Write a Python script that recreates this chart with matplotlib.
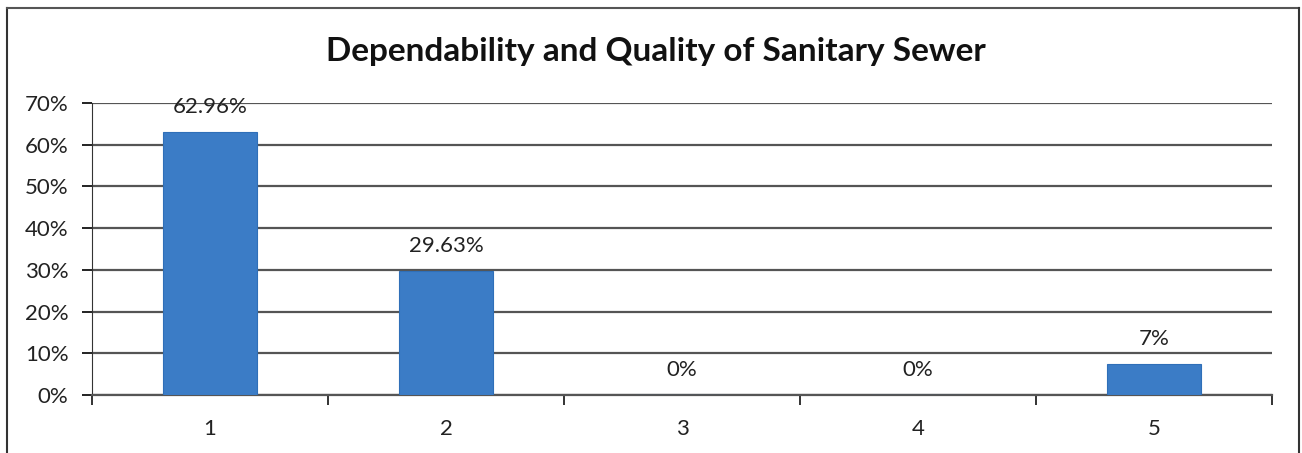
import matplotlib
matplotlib.use("Agg")
import matplotlib.pyplot as plt
from matplotlib.lines import Line2D
from matplotlib.ticker import FuncFormatter, MultipleLocator

categories = ["1", "2", "3", "4", "5"]
values = [62.96, 29.63, 0.0, 0.0, 7.41]
labels = ["62.96%", "29.63%", "0%", "0%", "7%"]
title = "Dependability and Quality of Sanitary Sewer"

plt.rcParams['font.family'] = ['Lato', 'DejaVu Sans']

fig = plt.figure(figsize=(13.02, 4.53), dpi=100)
ax = fig.add_axes([92/1302, 1-395/453, (1272-92)/1302, (395-103)/453])

x = list(range(len(categories)))
ax.bar(x, values, width=0.4, color="#3b7cc6", edgecolor="#2f6fb8", linewidth=0.8, zorder=3)
for xi, v, lab in zip(x, values, labels):
    ax.annotate(lab, (xi, v), xytext=(0, 18), textcoords="offset points",
                ha="center", va="center", fontsize=16, color="#222222", zorder=4)

ax.set_xlim(-0.5, 4.5)
ax.set_ylim(0, 70)
ax.yaxis.set_major_locator(MultipleLocator(10))
ax.yaxis.set_major_formatter(FuncFormatter(lambda v, p: f"{int(round(v))}%"))
ax.grid(axis="y", color="#555555", linewidth=1.6, zorder=0)
ax.set_axisbelow(True)
for s in ["top", "right"]:
    ax.spines[s].set_visible(False)
ax.spines["left"].set_color("#333333")
ax.spines["bottom"].set_color("#555555")
ax.spines["bottom"].set_linewidth(1.6)
ax.set_xticks(x)
ax.set_xticklabels(categories)
ax.tick_params(axis="x", length=0, labelsize=16, pad=17, colors="#222222")
ax.set_xticks([i + 0.5 for i in range(-1, 5)], minor=True)
ax.tick_params(axis="x", which="minor", length=7, width=1.4, color="#333333")
ax.tick_params(axis="y", length=7, width=1.4, labelsize=16, colors="#222222", pad=10)

fig.text((327+985)/2/1302, 1-52/453, title, ha="center", va="center", fontsize=24, fontweight="bold", color="#111111")

# chart border
fig.add_artist(Line2D([7/1302, 7/1302], [0, 1-8/453], transform=fig.transFigure, color="#333333", linewidth=1.5))
fig.add_artist(Line2D([7/1302, 1299/1302], [1-8/453, 1-8/453], transform=fig.transFigure, color="#555555", linewidth=1.5))
fig.add_artist(Line2D([1299/1302, 1299/1302], [0, 1-8/453], transform=fig.transFigure, color="#333333", linewidth=1.5))

fig.savefig("out.png", dpi=100)
